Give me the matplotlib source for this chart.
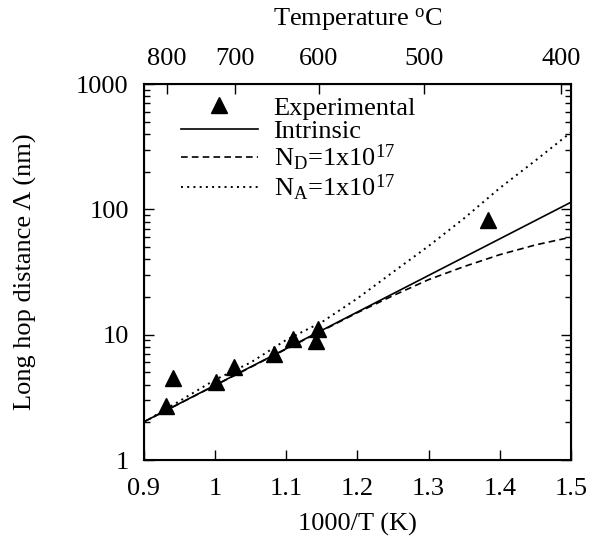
import matplotlib
matplotlib.use("Agg")
import matplotlib.pyplot as plt
from matplotlib.ticker import LogLocator, NullFormatter, FixedLocator

plt.rcParams['font.family'] = ['Liberation Serif', 'DejaVu Serif']
plt.rcParams['mathtext.fontset'] = 'custom'
plt.rcParams['mathtext.rm'] = 'Liberation Serif'
plt.rcParams['mathtext.it'] = 'Liberation Serif:italic'

# Experimental data
exp_x = [0.931, 0.941, 1.001, 1.027, 1.083, 1.110, 1.1417, 1.144, 1.383]
exp_y = [2.70, 4.54, 4.17, 5.55, 7.0, 9.2, 8.96, 11.2, 83.0]

# Intrinsic (straight on log scale)
intr_x = [0.9, 1.5]
intr_y = [2.02, 114.0]

# N_D = 1e17 (dashed)
nd_x = [0.9, 1.2, 1.25, 1.30, 1.35, 1.40, 1.45, 1.5]
nd_y = [2.02, 15.0, 20.5, 27.5, 35.0, 43.5, 52.0, 60.0]

# N_A = 1e17 (dotted)
na_x = [0.9, 1.0, 1.05, 1.1, 1.15, 1.2, 1.25, 1.3, 1.35, 1.4, 1.45, 1.5]
na_y = [2.0, 4.37, 6.0, 9.1, 12.6, 19.5, 31.6, 51.0, 85.0, 148.0, 245.0, 412.0]

# Top axis temperatures (deg C)
temps_c = [800, 700, 600, 500, 400]

xticks = [0.9, 1.0, 1.1, 1.2, 1.3, 1.4, 1.5]
xticklabels = ['0.9', '1', '1.1', '1.2', '1.3', '1.4', '1.5']
yticks = [1, 10, 100, 1000]
yticklabels = ['1', '10', '100', '1000']

FS = 19

fig = plt.figure(figsize=(5.92, 5.40), dpi=100)
ax = fig.add_axes([0.2432, 0.1481, 0.9645 - 0.2432, 0.8444 - 0.1481])

ax.plot(exp_x, exp_y, linestyle='none', marker='^', color='black', markersize=11, label='Experimental')
ax.plot(intr_x, intr_y, '-', color='black', linewidth=1.2, label='Intrinsic')
ax.plot(nd_x, nd_y, color='black', linewidth=1.2, linestyle=(0, (4, 2.5)), label=r'N$_{\rm D}$=1x10$^{17}$')
ax.plot(na_x, na_y, color='black', linewidth=1.4, linestyle=(0, (1, 2.2)), label=r'N$_{\rm A}$=1x10$^{17}$')

ax.set_yscale('log')
ax.set_xlim(0.9, 1.5)
ax.set_ylim(1, 1000)
ax.set_xticks(xticks)
ax.set_xticklabels(xticklabels)
ax.set_yticks(yticks)
ax.set_yticklabels(yticklabels)
ax.yaxis.set_minor_locator(LogLocator(base=10, subs=range(2, 10)))
ax.yaxis.set_minor_formatter(NullFormatter())

ax.tick_params(axis='x', which='major', direction='in', length=7, width=1.0, labelsize=FS, pad=13)
ax.tick_params(axis='y', which='major', direction='in', length=7, width=1.0, labelsize=FS, pad=11)
ax.tick_params(axis='y', which='minor', direction='in', length=4, width=1.0)
ax.tick_params(axis='y', which='both', right=True)
ax.tick_params(axis='x', top=False)
for s in ax.spines.values():
    s.set_linewidth(1.5)

ax.set_xlabel('1000/T (K)', fontsize=FS, labelpad=9)
ax.set_ylabel('Long hop distance Λ (nm)', fontsize=FS, labelpad=28)

ax2 = ax.twiny()
ax2.set_xlim(ax.get_xlim())
ax2.xaxis.set_major_locator(FixedLocator([1000.0 / (t + 273.0) for t in temps_c]))
ax2.set_xticklabels([str(t) for t in temps_c])
ax2.tick_params(axis='x', which='major', direction='in', length=7, width=1.0, labelsize=FS, pad=10)
ax2.set_xlabel(r'Temperature $^{\rm o}$C', fontsize=FS, labelpad=16)

leg = ax.legend(loc='upper left', frameon=False, fontsize=FS, handlelength=2.9,
                handletextpad=0.6, labelspacing=0.0, borderaxespad=0.2,
                bbox_to_anchor=(0.05, 1.01))

fig.savefig('out.png', dpi=100)
